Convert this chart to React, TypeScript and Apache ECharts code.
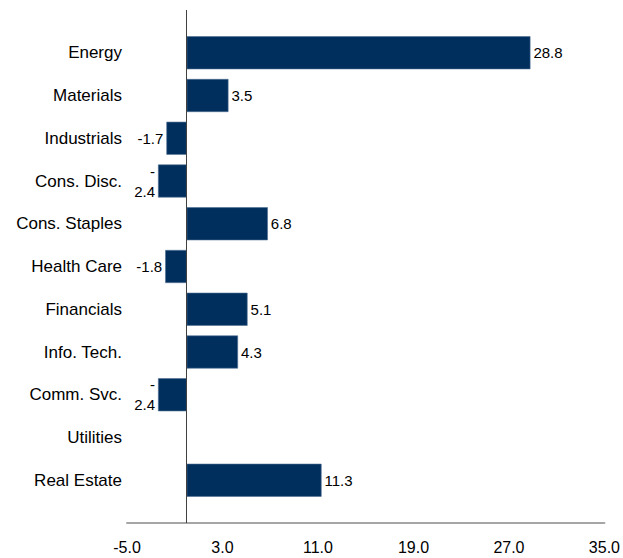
import React, { useEffect, useRef } from "react";
import * as echarts from "echarts";

// Sector returns (top to bottom)
const categories = [
  "Energy",
  "Materials",
  "Industrials",
  "Cons. Disc.",
  "Cons. Staples",
  "Health Care",
  "Financials",
  "Info. Tech.",
  "Comm. Svc.",
  "Utilities",
  "Real Estate",
];
const values: (number | null)[] = [28.8, 3.5, -1.7, -2.4, 6.8, -1.8, 5.1, 4.3, -2.4, null, 11.3];

// Value axis ticks: -5.0, 3.0, 11.0, 19.0, 27.0, 35.0
const xMin = -5;
const xMax = 35;
const xStep = 8;

// labels that the original wrapped onto two lines
const wrappedLabels = ["-2.4"];

export default function App() {
  const ref = useRef<HTMLDivElement>(null);

  useEffect(() => {
    if (!ref.current) return;
    const chart = echarts.init(ref.current, undefined, { renderer: "svg" });
    const barColor = "#002F5E";
    const font = "'Liberation Sans', Arial, sans-serif";
    const seriesData = [null, ...values, null].map((v) =>
      v != null && v < 0 ? { value: v, label: { position: "left" } } : v
    );
    chart.setOption({
      animation: false,
      backgroundColor: "#ffffff",
      grid: { left: 127, right: 17, top: 10, bottom: 35, containLabel: false },
      xAxis: {
        type: "value",
        min: xMin,
        max: xMax,
        interval: xStep,
        splitLine: { show: false },
        axisTick: { show: false },
        axisLine: { show: true, onZero: false, lineStyle: { color: "#a6a6a6", width: 2 } },
        axisLabel: {
          color: "#000",
          fontFamily: font,
          fontSize: 16,
          margin: 16,
          formatter: (v: number) => v.toFixed(1),
        },
      },
      yAxis: {
        type: "category",
        inverse: true,
        boundaryGap: false,
        data: ["", ...categories, ""],
        axisLine: { show: false, onZero: false },
        axisTick: { show: false },
        splitLine: { show: false },
        axisLabel: {
          color: "#000",
          fontFamily: font,
          fontSize: 17,
          margin: 5,
          interval: 0,
        },
      },
      series: [
        {
          type: "bar",
          data: seriesData,
          barWidth: 33,
          itemStyle: { color: barColor, borderColor: "#4f6f92", borderWidth: 0.6 },
          label: {
            show: true,
            color: "#000",
            fontFamily: font,
            fontSize: 15,
            lineHeight: 20,
            distance: 3,
            position: "right",
            formatter: (p: any) => {
              const v = p.value as number;
              if (v == null) return "";
              const s = v.toFixed(1);
              if (wrappedLabels.includes(s)) return s.slice(0, 1) + "\n" + s.slice(1);
              return s;
            },
          },
          markLine: {
            silent: true,
            symbol: "none",
            label: { show: false },
            lineStyle: { color: "#404040", width: 1, type: "solid" },
            data: [{ xAxis: 0 }],
          },
        },
      ],
    });
    return () => chart.dispose();
  }, []);

  return (
    <div
      ref={ref}
      style={{ position: "fixed", left: 0, top: 0, width: 623, height: 558 }}
    />
  );
}
